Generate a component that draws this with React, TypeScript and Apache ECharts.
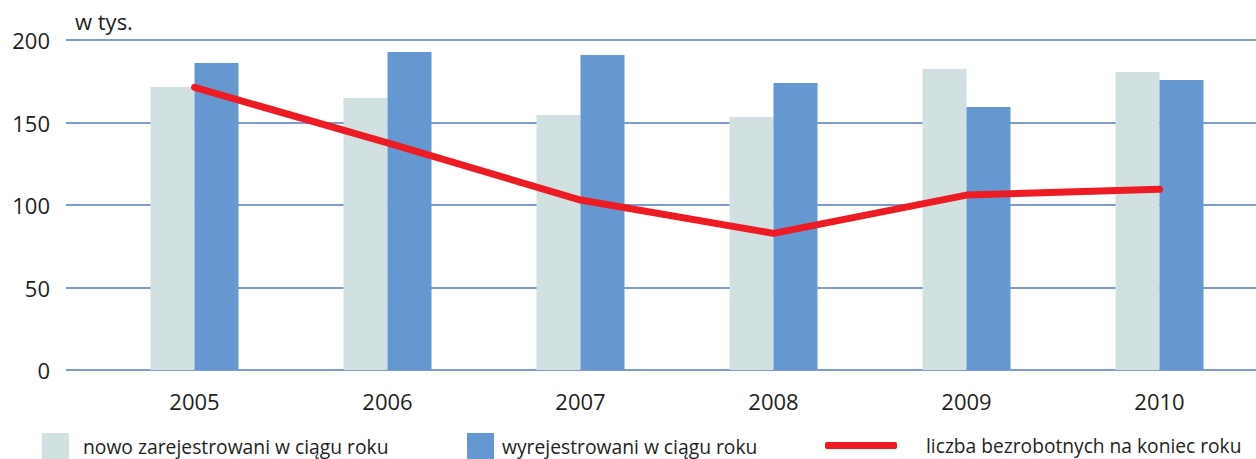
import React, { useEffect, useRef } from "react";
import * as echarts from "echarts";

const years = ["2005", "2006", "2007", "2008", "2009", "2010"];
const newlyRegistered = [171.5, 164.8, 154.5, 153.3, 182.4, 180.6];
const deregistered = [186, 192.7, 190.9, 173.9, 159.4, 175.8];
const unemployedEndOfYear = [171.3, 137.6, 103, 82.8, 106, 109.5];
const yTicks = { min: 0, max: 200, interval: 50 };

const S1 = "nowo zarejestrowani w ciągu roku";
const S2 = "wyrejestrowani w ciągu roku";
const S3 = "liczba bezrobotnych na koniec roku";

const FONT = "'Open Sans', 'DejaVu Sans', sans-serif";
const TXT = "#231f20";
const GRIDC = "#7f9cd1";

export default function App() {
  const ref = useRef<HTMLDivElement>(null);
  useEffect(() => {
    if (!ref.current) return;
    const chart = echarts.init(ref.current, undefined, { renderer: "svg" });
    const legendText = (pad: number, size: number) => ({
      fontFamily: FONT,
      fontSize: size,
      color: TXT,
      rich: {
        t: {
          fontFamily: FONT,
          fontSize: size,
          color: TXT,
          lineHeight: 18,
          padding: [0, 0, 0, pad],
        },
      },
    });
    const fmt = (n: string) => "{t|" + n + "}";
    chart.setOption({
      animation: false,
      backgroundColor: "#ffffff",
      textStyle: { fontFamily: FONT },
      grid: [
        { left: 98, top: 40, width: 1161, height: 330 },
        { left: 66, top: 40, right: 0, height: 330 },
      ],
      xAxis: [
        {
          type: "category",
          gridIndex: 0,
          data: years,
          axisLine: { show: false },
          axisTick: { show: false },
          axisLabel: { fontSize: 22, color: TXT, margin: 20, fontFamily: FONT },
        },
        { type: "value", gridIndex: 1, show: false },
      ],
      yAxis: [
        { type: "value", gridIndex: 0, ...yTicks, show: false, splitLine: { show: false } },
        {
          type: "value",
          gridIndex: 1,
          ...yTicks,
          axisLine: { show: false },
          axisTick: { show: false },
          axisLabel: { fontSize: 22, color: TXT, margin: 16, fontFamily: FONT },
          splitLine: { show: true, lineStyle: { color: GRIDC, width: 2 } },
        },
      ],
      graphic: [
        {
          type: "text",
          left: 75,
          top: 10,
          style: { text: "w tys.", fontSize: 22, fill: TXT, fontFamily: FONT },
        },
      ],
      legend: [
        {
          left: 37,
          top: 428,
          itemWidth: 27,
          itemHeight: 27,
          data: [{ name: S1, icon: "rect" }],
          formatter: fmt,
          textStyle: legendText(9, 19.3),
        },
        {
          left: 462,
          top: 428,
          itemWidth: 27,
          itemHeight: 27,
          data: [{ name: S2, icon: "rect" }],
          formatter: fmt,
          textStyle: legendText(3, 19.3),
        },
        {
          left: 820,
          top: 431,
          itemWidth: 72,
          itemHeight: 7,
          data: [{ name: S3, icon: "roundRect", itemStyle: { color: "#ed1c24" } }],
          formatter: fmt,
          textStyle: legendText(24, 19.2),
        },
      ],
      series: [
        {
          name: S1,
          type: "bar",
          xAxisIndex: 0,
          yAxisIndex: 0,
          data: newlyRegistered,
          barWidth: 44,
          barGap: "0%",
          itemStyle: { color: "#d1e0e0" },
        },
        {
          name: S2,
          type: "bar",
          xAxisIndex: 0,
          yAxisIndex: 0,
          data: deregistered,
          barWidth: 44,
          barGap: "0%",
          itemStyle: { color: "#6598d1" },
        },
        {
          name: S3,
          type: "line",
          xAxisIndex: 0,
          yAxisIndex: 0,
          data: unemployedEndOfYear,
          symbol: "none",
          lineStyle: { color: "#ed1c24", width: 7, cap: "round", join: "round" },
          itemStyle: { color: "#ed1c24" },
          z: 5,
        },
      ],
    });
    return () => chart.dispose();
  }, []);
  return (
    <div
      ref={ref}
      style={{ position: "absolute", left: 0, top: 0, width: 1256, height: 459 }}
    />
  );
}
